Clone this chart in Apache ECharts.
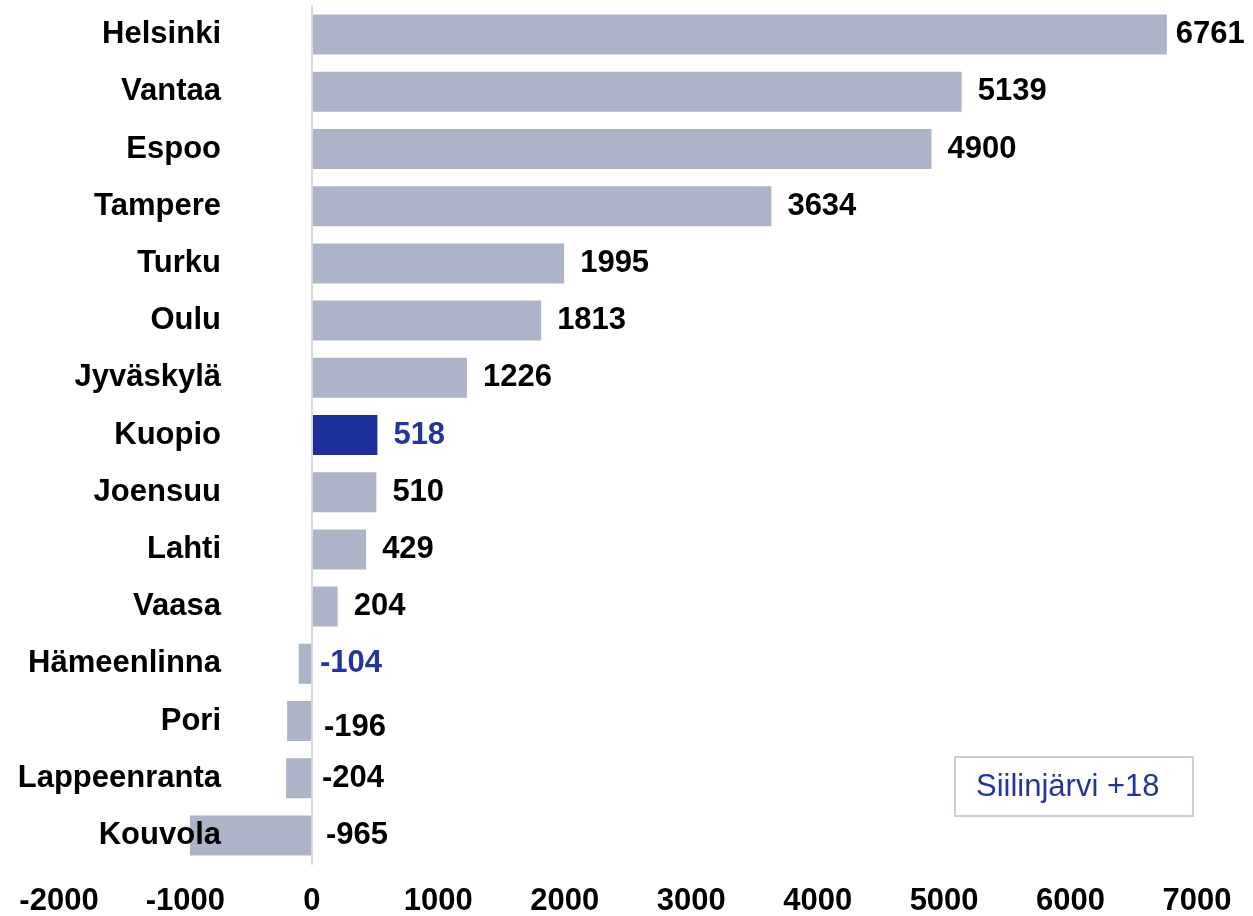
<!DOCTYPE html>
<html><head><meta charset="utf-8">
<script src="https://cdn.jsdelivr.net/npm/echarts@6/dist/echarts.min.js"></script>
<style>html,body{margin:0;padding:0;background:#fff}#c{width:1253px;height:916px}</style>
</head><body><div id="c"></div>
<script>
const cities = ['Helsinki','Vantaa','Espoo','Tampere','Turku','Oulu','Jyväskylä','Kuopio','Joensuu','Lahti','Vaasa','Hämeenlinna','Pori','Lappeenranta','Kouvola'];
const values = [6761,5139,4900,3634,1995,1813,1226,518,510,429,204,-104,-196,-204,-965];
const highlightBar = ['Kuopio'];
const highlightLabel = ['Kuopio','Hämeenlinna'];
const xMin = -2000, xMax = 7000, xStep = 1000;
const noteText = 'Siilinjärvi +18';

const FONT = '"Liberation Sans", Arial, sans-serif';
const GREY = '#ADB4C8', DARK = '#1C2E9C', LBLUE = '#24349F';
const GRID_LEFT = 59, LABEL_RIGHT = 221;
const labelDistance = { 'Helsinki': 9, 'Hämeenlinna': 8, 'Pori': 12, 'Lappeenranta': 10, 'Kouvola': 14 };

const data = values.map((v, i) => {
  const c = cities[i];
  const item = {
    value: v,
    itemStyle: { color: highlightBar.includes(c) ? DARK : GREY },
    label: {
      color: highlightLabel.includes(c) ? LBLUE : '#000',
      distance: labelDistance[c] !== undefined ? labelDistance[c] : 16
    }
  };
  if (c === 'Pori') item.label.offset = [0, 6];
  return item;
});

const chart = echarts.init(document.getElementById('c'), null, { renderer: 'canvas' });
chart.setOption({
  animation: false,
  backgroundColor: '#fff',
  grid: { left: GRID_LEFT, right: 56, top: 6, bottom: 52, containLabel: false, outerBoundsMode: 'none' },
  xAxis: {
    type: 'value', min: xMin, max: xMax, interval: xStep,
    splitLine: { show: false },
    axisLine: { show: false }, axisTick: { show: false },
    axisLabel: { color: '#000', fontFamily: FONT, fontWeight: 'bold', fontSize: 31, margin: 22,
      formatter: v => String(v) }
  },
  yAxis: {
    type: 'category', data: cities, inverse: true, z: 10,
    axisLine: { show: true, onZero: true, lineStyle: { color: '#D9D9D9', width: 2 } },
    axisTick: { show: false },
    axisLabel: { color: '#000', fontFamily: FONT, fontWeight: 'bold', fontSize: 31,
      margin: GRID_LEFT - LABEL_RIGHT }
  },
  series: [{
    type: 'bar',
    data: data,
    barCategoryGap: '30%',
    label: { show: true, position: 'right', fontFamily: FONT, fontWeight: 'bold', fontSize: 31 }
  }],
  graphic: [{
    type: 'group', left: 954, top: 756,
    children: [
      { type: 'rect', shape: { x: 0, y: 0, width: 238, height: 59 },
        style: { fill: '#fff', stroke: '#C9CDDD', lineWidth: 2 } },
      { type: 'text', x: 21, y: 30,
        style: { text: noteText, fill: LBLUE, font: '31px ' + FONT, textVerticalAlign: 'middle' } }
    ]
  }]
});
</script></body></html>
